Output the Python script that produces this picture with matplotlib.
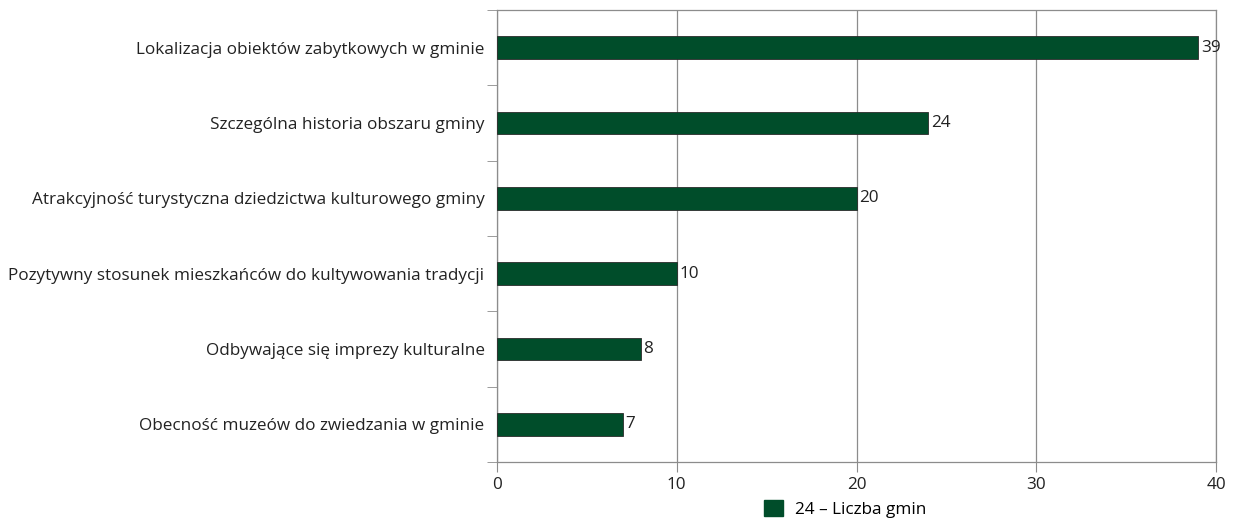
import matplotlib.pyplot as plt
import numpy as np
from matplotlib.patches import Patch

plt.rcParams['font.family'] = ['Open Sans', 'DejaVu Sans']

categories = [
    "Lokalizacja obiektów zabytkowych w gminie",
    "Szczególna historia obszaru gminy",
    "Atrakcyjność turystyczna dziedzictwa kulturowego gminy",
    "Pozytywny stosunek mieszkańców do kultywowania tradycji",
    "Odbywające się imprezy kulturalne",
    "Obecność muzeów do zwiedzania w gminie",
]
values = [39, 24, 20, 10, 8, 7]
series_name = "24 – Liczba gmin"

green = "#004d2a"
gray = "#8c8c8c"
fs = 12.3

fig = plt.figure(figsize=(12.35, 5.27), dpi=100)
ax = fig.add_axes([497 / 1235, 1 - 462 / 527, (1216 - 497) / 1235, (462 - 10) / 527])

n = len(categories)
ypos = np.arange(n)[::-1]
ax.barh(ypos, values, height=0.3, color=green, edgecolor="#2a2a2a", linewidth=0.6, zorder=3)
for y, v in zip(ypos, values):
    ax.text(v + 0.15, y, str(v), va='center', ha='left', fontsize=fs, color='#222222')

ax.set_xlim(0, 40)
ax.set_ylim(-0.5, n - 0.5)
ax.set_xticks([0, 10, 20, 30, 40])
ax.tick_params(axis='x', length=7, color=gray, labelsize=fs, labelcolor='#222222', pad=4)

# category labels at centers, tick marks at boundaries
ax.set_yticks(ypos)
ax.set_yticklabels(categories, fontsize=fs, color='#222222')
ax.tick_params(axis='y', which='major', length=0, pad=9)
ax.set_yticks(np.arange(-0.5, n, 1.0), minor=True)
ax.tick_params(axis='y', which='minor', length=7, color=gray)

ax.grid(axis='x', color=gray, linewidth=0.9, zorder=0)
for s in ax.spines.values():
    s.set_color(gray)
    s.set_linewidth(0.9)

fig.legend(handles=[Patch(facecolor=green, edgecolor=green, label=series_name)],
           loc='lower center', bbox_to_anchor=(845 / 1235, -0.012), frameon=False,
           fontsize=fs, handlelength=1.1, handleheight=1.1, handletextpad=0.7)

fig.savefig("out.png", dpi=100)
